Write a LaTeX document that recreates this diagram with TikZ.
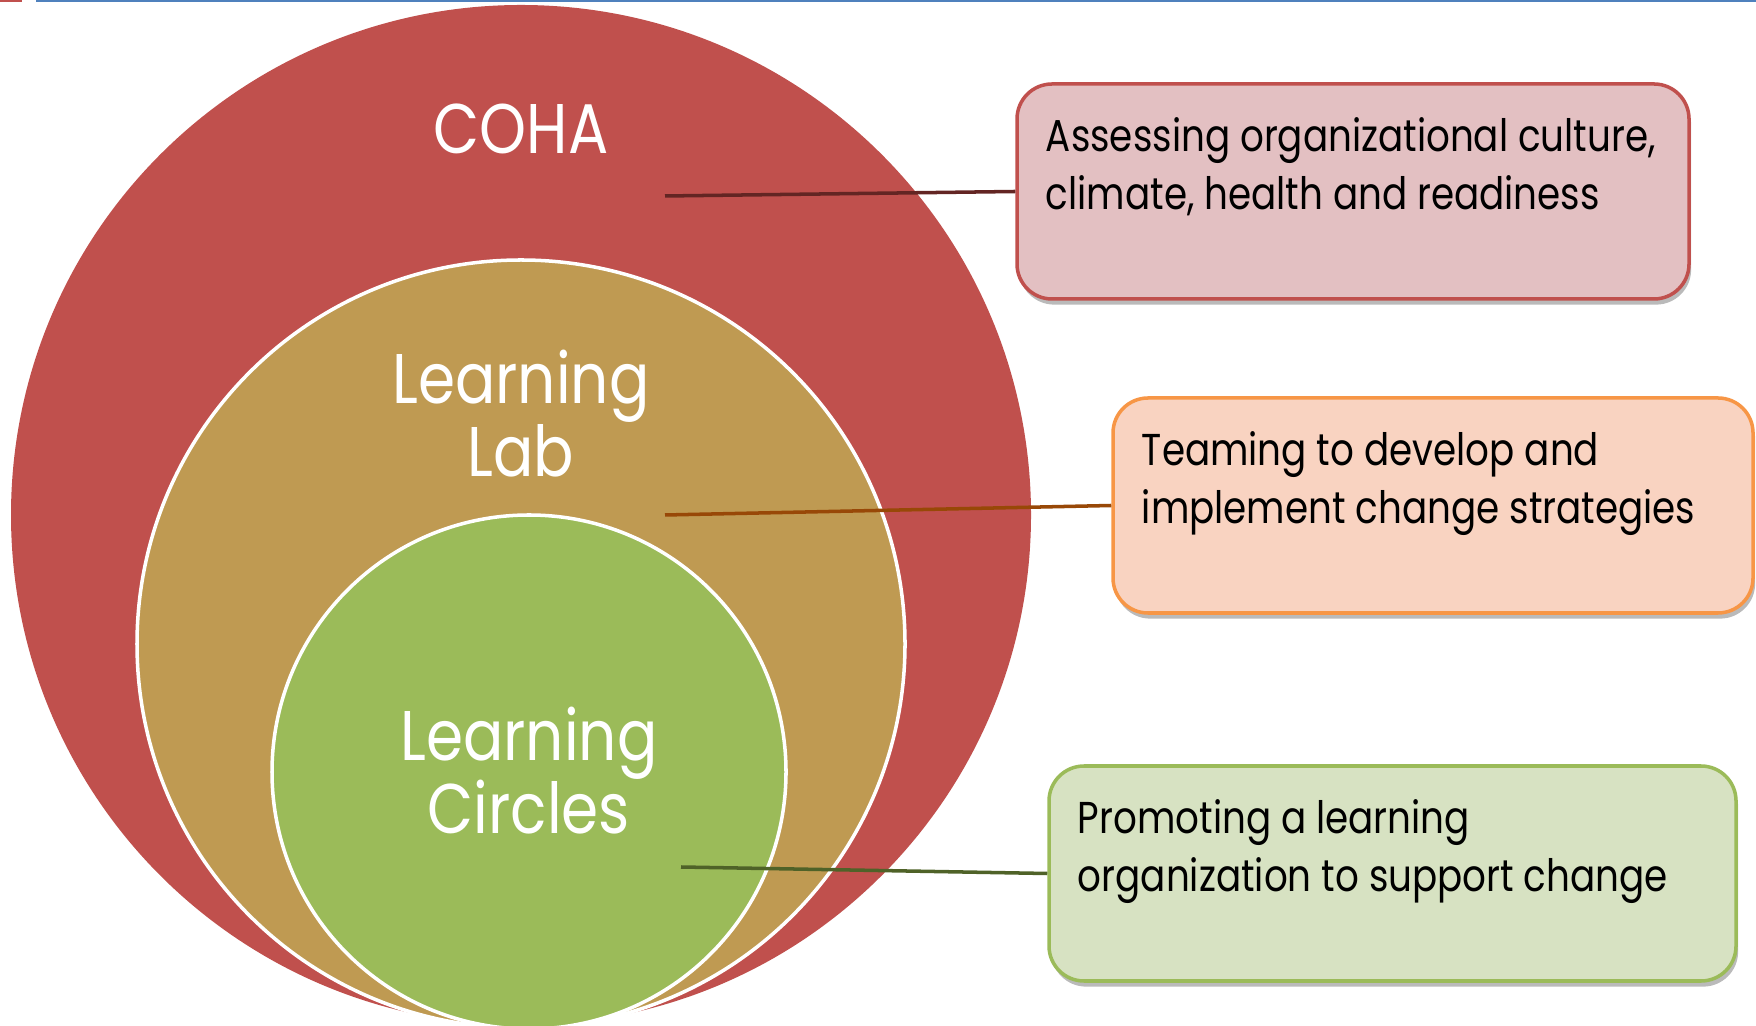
\documentclass[tikz,border=0pt]{standalone}
\usepackage{fontspec}
\setmainfont{Poppins}
\newfontfamily\ringfont{Poppins}[FakeStretch=0.85]
\newfontfamily\notefont{Poppins}[FakeStretch=0.835]
\usetikzlibrary{positioning,shadows}
\definecolor{cohared}{HTML}{C0504D}
\definecolor{labtan}{HTML}{BF9A52}
\definecolor{circgreen}{HTML}{9BBB59}
\definecolor{pinkfill}{HTML}{E3C0C2}
\definecolor{peachfill}{HTML}{F9D3C1}
\definecolor{sagefill}{HTML}{D7E2C2}
\definecolor{orangeline}{HTML}{F79646}
\definecolor{headblue}{HTML}{4F81BD}
\definecolor{redlink}{HTML}{632523}
\definecolor{orangelink}{HTML}{984807}
\definecolor{greenlink}{HTML}{4F6228}

\begin{document}
\begin{tikzpicture}[
    ring/.style={circle, inner sep=0pt, minimum size=#1},
    ringlabel/.style={text=white, font=\ringfont\fontsize{20}{20.8}\selectfont, align=center},
    notebox/.style={rounded corners=0.35cm, line width=1pt, minimum width=#1,
        minimum height=2.15cm,
        drop shadow={shadow xshift=0.6pt, shadow yshift=-1.6pt, opacity=0.45, fill=black!60}},
    notetext/.style={font=\notefont\fontsize{12.7}{16.5}\selectfont, align=left, inner sep=0pt},
    link/.style={line width=1pt}
]
\useasboundingbox (0,0) rectangle (17.56,10.25);
\clip (0,0) rectangle (17.56,10.25);

% rule along the top edge
\draw[cohared, line width=0.5pt] (0,10.24) -- (0.22,10.24);
\draw[headblue, line width=0.5pt] (0.36,10.24) -- (17.56,10.24);

% stacked circles, all touching the bottom edge
\node[ring=10.2cm, fill=cohared] (coha) at (5.21,5.10) {};
\node[ring=7.68cm, fill=labtan, draw=white, line width=1pt] (lab) at (5.21,3.81) {};
\node[ring=5.14cm, fill=circgreen, draw=white, line width=1pt] (circles) at (5.29,2.53) {};

\node[ringlabel] (cohatext) at (5.21,8.96) {COHA};
\node[ringlabel] (labtext) at (5.21,6.11) {Learning\\Lab};
\node[ringlabel] (circtext) at (5.29,2.54) {Learning\\Circles};

% callout boxes
\node[notebox=6.72cm, fill=pinkfill, draw=cohared] (culture) at (13.53,8.335) {};
\node[notebox=6.40cm, fill=peachfill, draw=orangeline] (teaming) at (14.33,5.195) {};
\node[notebox=6.87cm, fill=sagefill, draw=circgreen] (promoting) at (13.925,1.515) {};

\node[notetext, below right=0.35cm and 0.3cm of culture.north west] (culturetext)
    {Assessing organizational culture,\\climate, health and readiness};
\node[notetext, below right=0.35cm and 0.3cm of teaming.north west] (teamingtext)
    {Teaming to develop and\\implement change strategies};
\node[notetext, below right=0.35cm and 0.3cm of promoting.north west] (promotingtext)
    {Promoting a learning\\organization to support change};

% leader lines
\coordinate (cohapt) at (6.65,8.29);
\coordinate (labpt) at (6.65,5.10);
\coordinate (circpt) at (6.81,1.58);
\draw[link, redlink] (cohapt) -- (culture.west);
\draw[link, orangelink] (labpt) -- (teaming.west);
\draw[link, greenlink] (circpt) -- (promoting.west);
\end{tikzpicture}
\end{document}
